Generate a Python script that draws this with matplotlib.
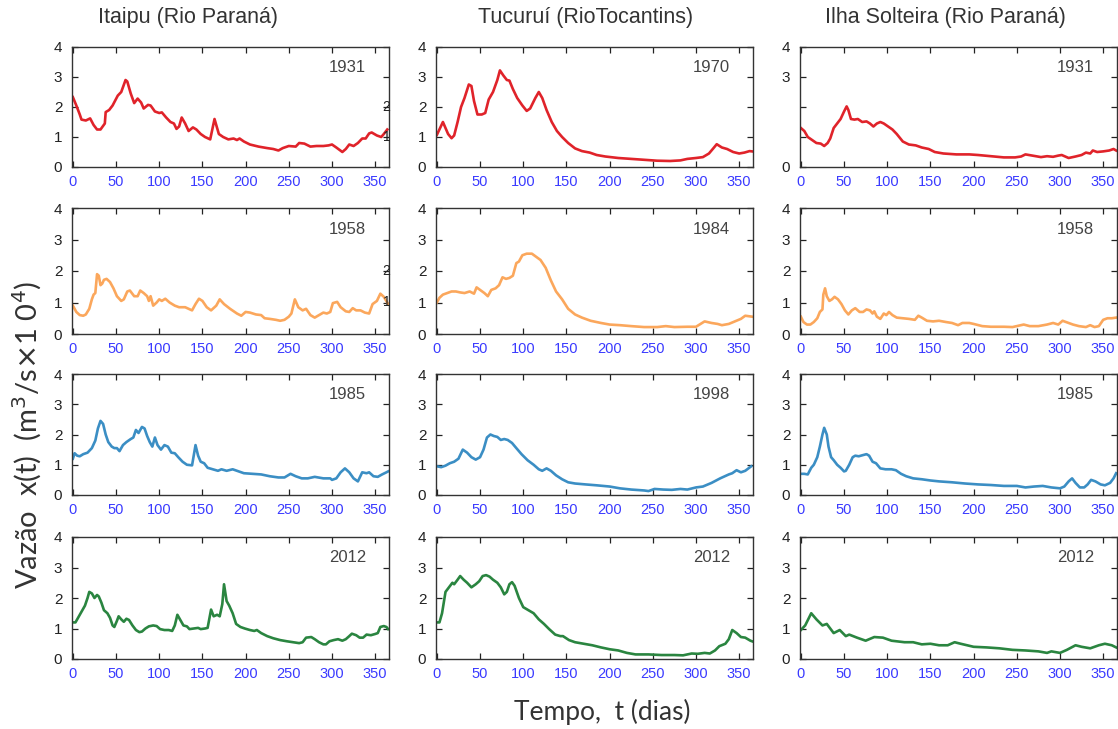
import matplotlib
matplotlib.use("Agg")
import matplotlib.pyplot as plt

# ---------------- data (vazão diária, m3/s x 10^4) ----------------
stations = ["Itaipu (Rio Paraná)", "Tucuruí (RioTocantins)", "Ilha Solteira (Rio Paraná)"]
row_years = [["1931", "1970", "1931"],
             ["1958", "1984", "1958"],
             ["1985", "1998", "1985"],
             ["2012", "2012", "2012"]]
row_colors = ["#e0232a", "#fba75c", "#3b8ec4", "#2a8540"]

itaipu_1931_t = [0, 4, 8, 10, 15, 20, 24, 28, 32, 37, 38, 42, 46, 52, 56, 61, 63, 67, 71, 75, 79, 82, 87, 90, 95, 100, 103, 108, 113, 117, 120, 123, 126, 130, 134, 139, 143, 148, 153, 159, 164, 169, 174, 180, 186, 190, 193, 198, 205, 215, 225, 232, 238, 243, 250, 258, 262, 268, 275, 282, 290, 296, 300, 305, 312, 316, 320, 325, 330, 335, 339, 343, 346, 352, 357, 360, 364]
itaipu_1931_v = [2.33, 2.05, 1.75, 1.58, 1.55, 1.62, 1.4, 1.25, 1.25, 1.45, 1.83, 1.9, 2.05, 2.38, 2.5, 2.9, 2.85, 2.45, 2.13, 2.28, 2.15, 1.95, 2.07, 2.05, 1.85, 1.8, 1.82, 1.65, 1.5, 1.45, 1.27, 1.35, 1.65, 1.45, 1.2, 1.32, 1.25, 1.1, 1.0, 0.92, 1.6, 1.1, 1.0, 0.92, 0.95, 0.9, 0.95, 0.85, 0.75, 0.68, 0.63, 0.6, 0.55, 0.63, 0.7, 0.68, 0.8, 0.78, 0.68, 0.7, 0.7, 0.72, 0.75, 0.65, 0.5, 0.6, 0.75, 0.7, 0.8, 0.95, 0.95, 1.12, 1.15, 1.05, 1.0, 1.1, 1.25]

tucurui_1970_t = [0, 7, 13, 17, 20, 24, 28, 32, 37, 40, 43, 47, 52, 56, 60, 65, 70, 73, 77, 81, 84, 88, 93, 99, 104, 108, 114, 118, 122, 127, 133, 139, 145, 152, 160, 168, 177, 185, 195, 210, 225, 240, 255, 270, 282, 290, 300, 308, 315, 320, 324, 330, 336, 343, 350, 356, 362, 365]
tucurui_1970_v = [1.07, 1.5, 1.1, 0.96, 1.05, 1.5, 2.0, 2.3, 2.75, 2.7, 2.2, 1.75, 1.75, 1.8, 2.25, 2.5, 2.9, 3.22, 3.05, 2.9, 2.88, 2.6, 2.3, 2.05, 1.87, 1.95, 2.3, 2.5, 2.3, 1.9, 1.5, 1.2, 1.0, 0.8, 0.62, 0.53, 0.48, 0.4, 0.35, 0.3, 0.27, 0.24, 0.21, 0.2, 0.22, 0.27, 0.3, 0.33, 0.45, 0.62, 0.76, 0.65, 0.6, 0.5, 0.45, 0.48, 0.53, 0.52]

ilha_1931_t = [0, 4, 8, 13, 18, 23, 27, 31, 34, 38, 42, 46, 50, 53, 55, 58, 62, 66, 71, 76, 80, 84, 88, 92, 96, 101, 106, 111, 118, 125, 133, 140, 148, 155, 165, 180, 195, 205, 220, 235, 248, 255, 260, 268, 278, 285, 292, 298, 302, 310, 318, 325, 330, 335, 338, 343, 350, 357, 362, 365]
ilha_1931_v = [1.3, 1.2, 1.0, 0.9, 0.8, 0.78, 0.7, 0.8, 0.95, 1.3, 1.45, 1.6, 1.85, 2.02, 1.9, 1.6, 1.58, 1.6, 1.5, 1.52, 1.45, 1.35, 1.45, 1.5, 1.45, 1.35, 1.25, 1.1, 0.85, 0.75, 0.72, 0.65, 0.6, 0.5, 0.45, 0.42, 0.42, 0.4, 0.36, 0.32, 0.32, 0.35, 0.42, 0.38, 0.33, 0.36, 0.34, 0.38, 0.4, 0.3, 0.35, 0.4, 0.48, 0.45, 0.55, 0.5, 0.52, 0.55, 0.6, 0.55]

itaipu_1958_t = [0, 4, 8, 12, 15, 19, 22, 24, 26, 28, 30, 32, 34, 36, 39, 43, 47, 51, 56, 59, 63, 66, 71, 75, 78, 82, 86, 88, 90, 93, 97, 100, 103, 107, 112, 118, 123, 130, 138, 142, 146, 150, 155, 160, 166, 170, 175, 182, 190, 195, 200, 205, 212, 218, 222, 228, 235, 240, 245, 250, 253, 257, 261, 266, 270, 275, 280, 285, 290, 294, 298, 301, 306, 310, 316, 320, 324, 328, 333, 338, 343, 347, 352, 356, 360, 365]
itaipu_1958_v = [0.9, 0.7, 0.6, 0.58, 0.62, 0.8, 1.1, 1.25, 1.3, 1.9, 1.85, 1.55, 1.6, 1.72, 1.75, 1.65, 1.45, 1.2, 1.05, 1.1, 1.35, 1.38, 1.2, 1.2, 1.38, 1.3, 1.2, 1.05, 1.2, 0.9, 1.0, 1.1, 1.05, 1.12, 1.0, 0.9, 0.85, 0.85, 0.75, 0.95, 1.12, 1.05, 0.85, 0.75, 0.9, 1.1, 0.95, 0.8, 0.65, 0.58, 0.7, 0.68, 0.62, 0.6, 0.5, 0.48, 0.45, 0.42, 0.45, 0.55, 0.65, 1.1, 0.85, 0.75, 0.8, 0.6, 0.52, 0.6, 0.68, 0.65, 0.7, 0.98, 1.02, 0.85, 0.72, 0.7, 0.82, 0.75, 0.75, 0.68, 0.65, 0.95, 1.05, 1.28, 1.18, 0.95]

tucurui_1984_t = [0, 3, 7, 12, 17, 22, 27, 32, 38, 43, 46, 50, 55, 59, 63, 68, 72, 76, 80, 84, 88, 92, 95, 99, 104, 110, 115, 120, 126, 132, 138, 145, 152, 160, 168, 178, 190, 200, 212, 225, 240, 255, 265, 275, 290, 300, 310, 318, 325, 330, 338, 345, 352, 357, 365]
tucurui_1984_v = [1.0, 1.15, 1.25, 1.3, 1.35, 1.35, 1.32, 1.3, 1.35, 1.28, 1.48, 1.4, 1.3, 1.2, 1.4, 1.45, 1.55, 1.8, 1.75, 1.78, 1.85, 2.25, 2.3, 2.5, 2.55, 2.55, 2.45, 2.35, 2.1, 1.7, 1.35, 1.1, 0.8, 0.62, 0.52, 0.42, 0.35, 0.3, 0.28, 0.25, 0.22, 0.22, 0.25, 0.22, 0.23, 0.23, 0.4, 0.35, 0.32, 0.28, 0.32, 0.4, 0.48, 0.58, 0.55]

ilha_1958_t = [0, 3, 7, 11, 15, 19, 22, 25, 26, 28, 30, 33, 36, 39, 43, 47, 51, 55, 59, 63, 68, 72, 76, 80, 83, 85, 88, 92, 96, 99, 102, 106, 111, 118, 125, 132, 136, 140, 146, 153, 160, 168, 175, 182, 187, 195, 200, 210, 220, 235, 245, 258, 265, 275, 285, 292, 298, 303, 307, 315, 322, 330, 335, 340, 345, 350, 355, 360, 365]
ilha_1958_v = [0.55, 0.38, 0.3, 0.3, 0.38, 0.5, 0.7, 0.78, 1.25, 1.45, 1.2, 1.05, 1.1, 1.18, 1.1, 0.95, 0.75, 0.62, 0.75, 0.82, 0.7, 0.7, 0.78, 0.75, 0.65, 0.72, 0.55, 0.48, 0.65, 0.6, 0.7, 0.6, 0.52, 0.5, 0.48, 0.45, 0.58, 0.52, 0.42, 0.4, 0.42, 0.38, 0.35, 0.28, 0.35, 0.35, 0.32, 0.25, 0.23, 0.23, 0.22, 0.3, 0.25, 0.25, 0.3, 0.35, 0.3, 0.42, 0.38, 0.3, 0.25, 0.22, 0.28, 0.22, 0.25, 0.45, 0.5, 0.5, 0.52]

itaipu_1985_t = [0, 2, 5, 8, 12, 17, 22, 26, 29, 32, 35, 38, 41, 45, 48, 51, 54, 58, 62, 67, 70, 73, 76, 80, 83, 86, 89, 92, 95, 98, 102, 106, 110, 114, 118, 122, 127, 132, 138, 142, 145, 148, 152, 156, 162, 168, 172, 178, 185, 190, 198, 208, 218, 228, 238, 245, 252, 258, 265, 272, 280, 290, 298, 300, 305, 310, 315, 320, 325, 330, 335, 340, 343, 348, 353, 358, 363, 365]
itaipu_1985_v = [1.2, 1.38, 1.3, 1.28, 1.35, 1.4, 1.55, 1.8, 2.2, 2.45, 2.35, 2.0, 1.75, 1.6, 1.55, 1.55, 1.45, 1.65, 1.75, 1.85, 1.9, 2.15, 2.05, 2.25, 2.2, 1.95, 1.75, 1.6, 1.9, 1.65, 1.5, 1.65, 1.6, 1.4, 1.38, 1.25, 1.1, 1.0, 0.98, 1.65, 1.3, 1.1, 1.05, 0.9, 0.85, 0.8, 0.85, 0.8, 0.85, 0.8, 0.72, 0.7, 0.68, 0.62, 0.58, 0.58, 0.7, 0.62, 0.55, 0.55, 0.6, 0.55, 0.55, 0.5, 0.55, 0.75, 0.88, 0.75, 0.55, 0.45, 0.75, 0.72, 0.75, 0.62, 0.6, 0.68, 0.75, 0.78]

tucurui_1998_t = [0, 5, 10, 15, 20, 25, 30, 35, 40, 45, 50, 54, 58, 62, 66, 70, 74, 78, 82, 87, 92, 98, 105, 112, 118, 122, 127, 132, 138, 145, 152, 160, 172, 185, 200, 212, 225, 240, 245, 252, 262, 272, 282, 290, 300, 308, 318, 328, 338, 342, 347, 352, 357, 364]
tucurui_1998_v = [0.95, 0.92, 0.97, 1.05, 1.1, 1.2, 1.5, 1.4, 1.25, 1.17, 1.25, 1.5, 1.9, 2.0, 1.95, 1.92, 1.82, 1.85, 1.82, 1.72, 1.55, 1.35, 1.15, 1.0, 0.85, 0.8, 0.88, 0.8, 0.65, 0.52, 0.42, 0.38, 0.35, 0.32, 0.28, 0.22, 0.18, 0.15, 0.13, 0.2, 0.18, 0.17, 0.2, 0.18, 0.25, 0.28, 0.4, 0.55, 0.68, 0.72, 0.82, 0.75, 0.8, 0.95]

ilha_1985_t = [0, 4, 8, 12, 15, 19, 22, 25, 27, 30, 32, 35, 38, 42, 46, 50, 52, 56, 60, 63, 67, 72, 76, 79, 83, 87, 92, 98, 105, 110, 116, 122, 130, 140, 150, 160, 175, 190, 205, 220, 235, 250, 260, 270, 280, 290, 300, 305, 310, 314, 318, 323, 328, 332, 336, 341, 347, 352, 358, 362, 365]
ilha_1985_v = [0.7, 0.7, 0.68, 0.9, 1.0, 1.25, 1.6, 2.0, 2.22, 2.0, 1.6, 1.25, 1.15, 1.0, 0.9, 0.78, 0.8, 1.0, 1.25, 1.3, 1.28, 1.32, 1.35, 1.3, 1.1, 1.05, 0.88, 0.85, 0.85, 0.82, 0.7, 0.62, 0.55, 0.52, 0.48, 0.45, 0.42, 0.38, 0.35, 0.33, 0.3, 0.3, 0.25, 0.28, 0.3, 0.25, 0.22, 0.28, 0.45, 0.55, 0.4, 0.25, 0.25, 0.35, 0.5, 0.45, 0.35, 0.32, 0.4, 0.55, 0.72]

itaipu_2012_t = [0, 3, 7, 11, 14, 17, 19, 22, 25, 28, 30, 33, 36, 40, 43, 46, 48, 51, 53, 56, 59, 62, 65, 69, 73, 77, 80, 84, 88, 93, 97, 101, 106, 111, 115, 118, 121, 124, 128, 132, 135, 140, 145, 148, 153, 156, 160, 163, 167, 170, 173, 175, 178, 181, 185, 189, 194, 199, 205, 210, 213, 218, 225, 232, 240, 248, 255, 262, 266, 270, 276, 280, 285, 290, 293, 297, 302, 307, 312, 316, 320, 323, 328, 332, 336, 340, 345, 350, 353, 356, 360, 363, 365]
itaipu_2012_v = [1.2, 1.2, 1.4, 1.6, 1.75, 2.0, 2.2, 2.15, 2.0, 2.1, 2.05, 1.85, 1.6, 1.5, 1.35, 1.1, 1.05, 1.25, 1.4, 1.3, 1.22, 1.32, 1.28, 1.1, 0.95, 0.88, 0.9, 1.0, 1.07, 1.1, 1.08, 0.98, 0.95, 0.95, 0.92, 1.1, 1.45, 1.3, 1.1, 1.07, 0.98, 1.0, 1.02, 0.98, 1.0, 1.02, 1.62, 1.4, 1.45, 1.4, 1.8, 2.45, 1.9, 1.75, 1.5, 1.15, 1.05, 1.0, 0.95, 0.92, 0.95, 0.85, 0.75, 0.68, 0.62, 0.58, 0.55, 0.52, 0.55, 0.7, 0.72, 0.65, 0.55, 0.48, 0.48, 0.58, 0.62, 0.65, 0.6, 0.65, 0.75, 0.83, 0.78, 0.7, 0.7, 0.8, 0.78, 0.82, 0.85, 1.05, 1.08, 1.05, 0.98]

tucurui_2012_t = [0, 3, 6, 10, 14, 18, 20, 24, 27, 31, 35, 40, 45, 49, 53, 57, 61, 65, 70, 74, 78, 81, 84, 87, 90, 95, 100, 106, 112, 118, 124, 130, 137, 143, 146, 153, 160, 170, 180, 190, 200, 210, 220, 230, 245, 260, 275, 285, 295, 302, 310, 316, 322, 327, 334, 338, 342, 347, 352, 357, 363, 365]
tucurui_2012_v = [1.2, 1.2, 1.5, 2.2, 2.35, 2.5, 2.45, 2.6, 2.72, 2.6, 2.5, 2.35, 2.45, 2.55, 2.72, 2.75, 2.7, 2.6, 2.5, 2.35, 2.12, 2.2, 2.45, 2.52, 2.4, 2.0, 1.7, 1.6, 1.5, 1.3, 1.15, 0.98, 0.8, 0.75, 0.75, 0.62, 0.55, 0.5, 0.45, 0.38, 0.32, 0.28, 0.2, 0.15, 0.15, 0.13, 0.13, 0.12, 0.18, 0.17, 0.2, 0.18, 0.28, 0.42, 0.5, 0.65, 0.95, 0.85, 0.72, 0.7, 0.6, 0.58]

ilha_2012_t = [0, 5, 12, 18, 25, 30, 38, 45, 52, 56, 65, 75, 85, 95, 105, 120, 130, 140, 150, 160, 170, 178, 185, 200, 215, 230, 245, 260, 275, 285, 290, 300, 308, 318, 325, 335, 345, 352, 360, 365]
ilha_2012_v = [0.95, 1.1, 1.5, 1.3, 1.1, 1.15, 0.85, 0.95, 0.75, 0.8, 0.7, 0.6, 0.72, 0.7, 0.6, 0.55, 0.55, 0.48, 0.5, 0.45, 0.45, 0.55, 0.5, 0.4, 0.38, 0.35, 0.3, 0.28, 0.25, 0.2, 0.25, 0.2, 0.3, 0.45, 0.4, 0.35, 0.45, 0.5, 0.45, 0.38]

series = [[(itaipu_1931_t, itaipu_1931_v), (tucurui_1970_t, tucurui_1970_v), (ilha_1931_t, ilha_1931_v)],
          [(itaipu_1958_t, itaipu_1958_v), (tucurui_1984_t, tucurui_1984_v), (ilha_1958_t, ilha_1958_v)],
          [(itaipu_1985_t, itaipu_1985_v), (tucurui_1998_t, tucurui_1998_v), (ilha_1985_t, ilha_1985_v)],
          [(itaipu_2012_t, itaipu_2012_v), (tucurui_2012_t, tucurui_2012_v), (ilha_2012_t, ilha_2012_v)]]

x_ticks = [0, 50, 100, 150, 200, 250, 300, 350]
y_ticks = [0, 1, 2, 3, 4]

# ---------------- layout (pixels) ----------------
W, H = 1118, 729
col_px = [(72, 389), (436, 753), (800, 1117)]
row_px = [(47, 167), (208, 334), (374, 495), (537, 659)]

fig = plt.figure(figsize=(W / 100, H / 100), dpi=100)
fig.patch.set_facecolor("white")

label_font = ["Lato", "DejaVu Sans"]
tick_font = ["Liberation Sans Narrow", "Liberation Sans", "DejaVu Sans"]

for r in range(4):
    for c in range(3):
        x0, x1 = col_px[c]
        t0, t1 = row_px[r]
        ax = fig.add_axes([x0 / W, 1 - t1 / H, (x1 - x0) / W, (t1 - t0) / H])
        t, v = series[r][c]
        ax.plot(t, v, color=row_colors[r], lw=1.9, solid_joinstyle="round")
        ax.set_xlim(-1, 366)
        ax.set_ylim(0, 4)
        ax.set_xticks(x_ticks)
        ax.set_yticks(y_ticks)
        ylabels = ["0", "1", "2", "3", "4"]
        if r == 0 and c == 2:
            ylabels = ["0", "", "", "3", "4"]
        ax.set_yticklabels(ylabels, family=tick_font, fontsize=11, color="#222222")
        ax.set_xticklabels([str(x) for x in x_ticks], family=tick_font,
                           fontsize=10.5, color="#3a3aff")
        ax.tick_params(direction="in", top=True, right=True, length=4,
                       width=0.9, color="#222222")
        ax.tick_params(axis="x", pad=6)
        ax.tick_params(axis="y", pad=7)
        for s in ax.spines.values():
            s.set_color("#333333")
            s.set_linewidth(1.0)
        ax.text(0.87, 0.83, row_years[r][c], transform=ax.transAxes,
                ha="center", va="center", fontsize=12, color="#444444",
                family=tick_font)
        if c == 0 and r < 2:
            ax.text(363, 2, "2", ha="center", va="center", fontsize=10,
                    color="#222222", family=tick_font, clip_on=False)
            ax.text(363, 1, "1", ha="center", va="center", fontsize=10,
                    color="#222222", family=tick_font, clip_on=False)

# column headings
for c, name in enumerate(stations):
    cx = [188, 586, 945][c]
    fig.text(cx / W, 1 - 18 / H, name, ha="center", va="center",
             fontsize=15.5, color="#333333", family=tick_font)

fig.text(27 / W, 1 - 435 / H, r"Vazão  x(t)  (m$^{3}$/s$\times$1 0$^{4}$)",
         rotation=90, ha="center", va="center", fontsize=21,
         color="#333333", family=label_font)
fig.text(602 / W, 1 - 712 / H, "Tempo,  t (dias)", ha="center", va="center",
         fontsize=19, color="#333333", family=label_font)

fig.savefig("out.png", dpi=100, facecolor="white")
